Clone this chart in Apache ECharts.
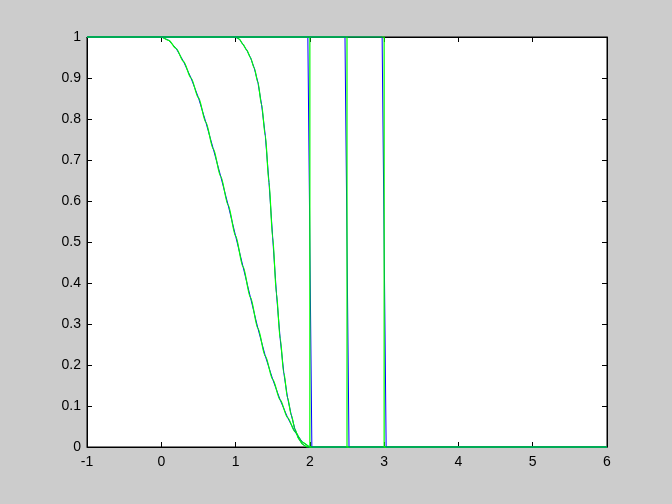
<!DOCTYPE html>
<html><head><meta charset="utf-8">
<script src="https://cdn.jsdelivr.net/npm/echarts@6/dist/echarts.min.js"></script>
<style>html,body{margin:0;padding:0;background:#cccccc}#c{width:672px;height:504px}</style>
</head><body><div id="c"></div>
<script>
// Smooth wide curve (1 at x<=0, 0 at x>=2)
const curveA = [[-1,1],[0,1],[0.1,0.992],[0.2,0.972],[0.3,0.94],[0.4,0.9],[0.5,0.852],[0.6,0.792],[0.7,0.727],[0.8,0.66],[0.9,0.59],[1.0,0.515],[1.1,0.44],[1.2,0.365],[1.3,0.29],[1.4,0.222],[1.5,0.165],[1.6,0.115],[1.7,0.072],[1.8,0.037],[1.9,0.012],[2.0,0],[6,0]];
// Steeper curve (1 at x<=1, 0 at x>=2)
const curveB = [[-1,1],[1.0,1],[1.05,0.995],[1.1,0.982],[1.15,0.968],[1.2,0.95],[1.25,0.925],[1.3,0.89],[1.35,0.835],[1.4,0.76],[1.45,0.645],[1.5,0.51],[1.55,0.375],[1.6,0.265],[1.65,0.18],[1.7,0.12],[1.75,0.078],[1.8,0.043],[1.85,0.02],[1.9,0.007],[1.95,0.001],[2.0,0],[6,0]];
// Step curves
const stepC = [[-1,1],[2,1],[2,0],[6,0]];
const stepD = [[-1,1],[2.5,1],[2.5,0],[6,0]];
const stepE = [[-1,1],[3,1],[3,0],[6,0]];
// Blue versions (drawn underneath, slightly different sampling)
const blueA = [[-1,1],[0,1],[0.1,0.992],[0.2,0.972],[0.3,0.94],[0.4,0.9],[0.5,0.852],[0.6,0.792],[0.7,0.727],[0.8,0.66],[0.9,0.59],[1.0,0.515],[1.1,0.44],[1.2,0.365],[1.3,0.29],[1.4,0.222],[1.5,0.165],[1.6,0.115],[1.7,0.072],[1.8,0.037],[1.9,0.012],[2.0,0],[6,0]];
const blueB = [[-1,1],[0.99,1],[1.05,0.995],[1.1,0.982],[1.15,0.968],[1.2,0.95],[1.25,0.925],[1.3,0.89],[1.35,0.835],[1.4,0.76],[1.45,0.645],[1.5,0.51],[1.55,0.375],[1.6,0.265],[1.65,0.18],[1.7,0.12],[1.75,0.078],[1.8,0.043],[1.85,0.02],[1.9,0.007],[1.95,0.001],[2.01,0],[6,0]];
const blueC = [[-1,1],[1.973,1],[2.027,0],[6,0]];
const blueD = [[-1,1],[2.473,1],[2.527,0],[6,0]];
const blueE = [[-1,1],[2.973,1],[3.027,0],[6,0]];

const BLUE = '#0000ff', GREEN = '#00ff00';
function line(data, color, z, width, smooth) {
  return {type:'line', data:data, symbol:'none', showSymbol:false,
    smooth:smooth || false, smoothMonotone:'x',
    lineStyle:{color:color, width:width}, itemStyle:{color:color}, z:z,
    xAxisIndex:0, yAxisIndex:0, animation:false, clip:false};
}
const axisCommon = {
  axisLine:{show:true, onZero:false, lineStyle:{color:'#000', width:1}},
  axisTick:{show:true, inside:true, length:5, lineStyle:{color:'#000', width:1}},
  splitLine:{show:false}
};
const labelStyle = {color:'#000', fontSize:14, fontFamily:'Liberation Sans, Arial, sans-serif', showMinLabel:true, showMaxLabel:true};
const chart = echarts.init(document.getElementById('c'), null, {renderer:'canvas'});
chart.setOption({
  backgroundColor:'#cccccc',
  animation:false,
  grid:{left:87, right:65, top:37, bottom:57, show:true, backgroundColor:'#ffffff', borderColor:'#000', borderWidth:1, outerBoundsMode:'none'},
  xAxis:[
    Object.assign({type:'value', min:-1, max:6, interval:1, position:'bottom',
      axisLabel:Object.assign({margin:8}, labelStyle)}, axisCommon),
    Object.assign({type:'value', min:-1, max:6, interval:1, position:'top',
      axisLabel:{show:false}}, axisCommon)
  ],
  yAxis:[
    Object.assign({type:'value', min:0, max:1, interval:0.1, position:'left',
      axisLabel:Object.assign({margin:6, formatter:function(v){return String(Math.round(v*10)/10);}}, labelStyle)}, axisCommon),
    Object.assign({type:'value', min:0, max:1, interval:0.1, position:'right',
      axisLabel:{show:false}}, axisCommon)
  ],
  series:[
    line(blueA, BLUE, 2, 1), line(curveA, GREEN, 3, 1.2, 0.3),
    line(blueB, BLUE, 4, 1), line(curveB, GREEN, 5, 1.2, 0.3),
    line(blueC, BLUE, 6, 1), line(stepC, GREEN, 7, 1.2),
    line(blueD, BLUE, 8, 1), line(stepD, GREEN, 9, 1.2),
    line(blueE, BLUE, 10, 1), line(stepE, GREEN, 11, 1.2)
  ]
});
</script>
</body></html>
